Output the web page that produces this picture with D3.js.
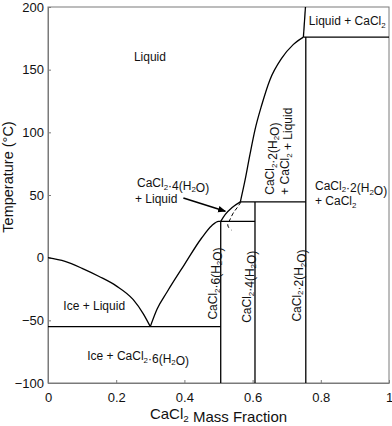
<!DOCTYPE html>
<html>
<head>
<meta charset="utf-8">
<script src="https://d3js.org/d3.v7.min.js"></script>
<style>
  body { margin: 0; background: #fff; }
  text { font-family: "Liberation Sans", Arial, sans-serif; fill: #111; }
</style>
</head>
<body>
<svg id="chart" width="392" height="426"></svg>
<script>
// axis ticks
var xTicks = [0, 0.2, 0.4, 0.6, 0.8, 1];
var yTicks = [-100, -50, 0, 50, 100, 150, 200];

// phase boundaries, [mass fraction, temperature]
var iceLiquidus = [[0, 0], [0.05, -3], [0.1, -8.5], [0.15, -15], [0.2, -22.5], [0.25, -33.5], [0.28, -45], [0.30, -55]];
var hexaLiquidus = [[0.30, -55], [0.32, -41], [0.35, -27], [0.40, -5.5], [0.45, 15.5], [0.48, 25.5], [0.50, 29], [0.5065, 29]];
var tetraLiquidus = [[0.5065, 29], [0.52, 34.5], [0.54, 40], [0.564, 44.5]];
var diLiquidus = [[0.564, 44.5], [0.578, 62], [0.592, 82], [0.607, 102], [0.627, 122], [0.651, 142], [0.685, 159], [0.719, 170], [0.749, 176]];
var anhydrousLine = [[0.749, 176], [0.755, 200]];
var metastable = [[0.566, 44.5], [0.555, 40], [0.543, 35.5], [0.533, 30], [0.527, 26.5], [0.530, 24], [0.538, 22]];

var eutecticLine = [[0, -55], [0.5065, -55]];
var hexaLine = [[0.5065, -100], [0.5065, 29]];
var peritecticLine1 = [[0.5065, 29], [0.607, 29]];
var tetraLine = [[0.607, -100], [0.607, 44.5]];
var peritecticLine2 = [[0.564, 44.5], [0.756, 44.5]];
var diLine = [[0.756, -100], [0.756, 176]];
var anhydrousTop = [[0.749, 176], [1, 176]];

var arrowPts = [[0.397, 47.6], [0.52, 37]];

var margin = {top: 7, left: 48, right: 3, bottom: 43};
var W = 392, H = 426;
var w = W - margin.left - margin.right;
var h = H - margin.top - margin.bottom;

var svg = d3.select("#chart");
svg.append("defs").append("marker")
   .attr("id", "head")
   .attr("markerWidth", 8)
   .attr("markerHeight", 8)
   .attr("viewBox", "0 0 10 10")
   .attr("refX", 9)
   .attr("refY", 5)
   .attr("orient", "auto")
   .attr("markerUnits", "userSpaceOnUse")
   .append("path").attr("d", "M 0 1 L 10 5 L 0 9 z").attr("fill", "#000");

var g = svg.append("g").attr("transform", "translate(" + margin.left + "," + margin.top + ")");

var x = d3.scaleLinear().domain([0, 1]).range([0, w]);
var y = d3.scaleLinear().domain([-100, 200]).range([h, 0]);

// frame + axes
var axisColor = "#7a7a7a";
g.append("rect").attr("width", w).attr("height", h)
 .attr("fill", "none").attr("stroke", axisColor).attr("stroke-width", 1);

var xAxis = g.append("g").attr("transform", "translate(0," + h + ")")
  .call(d3.axisBottom(x).tickValues(xTicks).tickFormat(d3.format("")).tickSizeInner(-3).tickSizeOuter(0).tickPadding(10));
var yAxis = g.append("g")
  .call(d3.axisLeft(y).tickValues(yTicks).tickSizeInner(-3).tickSizeOuter(0).tickPadding(4));
[xAxis, yAxis].forEach(function(a){
  a.select(".domain").attr("stroke", axisColor);
  a.selectAll(".tick line").attr("stroke", axisColor);
  a.selectAll(".tick text").attr("font-size", 13).attr("font-family", null).attr("fill", "#111");
});

// helper: "_2" becomes a subscript
function rich(t, str, sub) {
  sub = sub || 2.5;
  var parts = str.split(/(_\d)/);
  parts.forEach(function(p){
    if (!p) return;
    if (p[0] === "_") {
      t.append("tspan").attr("font-size", "66%").attr("dy", sub).text(p.slice(1));
      t.append("tspan").attr("dy", -sub).text("");
    } else {
      t.append("tspan").text(p);
    }
  });
  return t;
}

// curves
var smooth = d3.line().x(function(d){ return x(d[0]); }).y(function(d){ return y(d[1]); }).curve(d3.curveMonotoneX);
var straight = d3.line().x(function(d){ return x(d[0]); }).y(function(d){ return y(d[1]); });
var bendy = d3.line().x(function(d){ return x(d[0]); }).y(function(d){ return y(d[1]); }).curve(d3.curveCatmullRom);

var lineStyle = function(p){ p.attr("fill", "none").attr("stroke", "#000").attr("stroke-width", 1.3); };

[iceLiquidus, hexaLiquidus, tetraLiquidus, diLiquidus].forEach(function(c){
  g.append("path").attr("d", smooth(c)).call(lineStyle);
});
[anhydrousLine, eutecticLine, hexaLine, peritecticLine1, tetraLine, peritecticLine2, diLine, anhydrousTop].forEach(function(c){
  g.append("path").attr("d", straight(c)).call(lineStyle);
});
g.append("path").attr("d", bendy(metastable)).call(lineStyle).attr("stroke-dasharray", "4,2.5").attr("stroke-width", 1);

g.append("path").attr("d", straight(arrowPts)).call(lineStyle).attr("stroke-width", 1.5)
 .attr("marker-end", "url(#head)");

// region labels
var fs = 12;
function label(px, py, str) {
  return rich(g.append("text").attr("x", x(px)).attr("y", y(py)).attr("font-size", fs), str);
}
function vlabel(px, py, str) {
  var t = g.append("text").attr("font-size", fs)
    .attr("transform", "translate(" + x(px) + "," + y(py) + ") rotate(-90)");
  return rich(t, str);
}
label(0.252, 157, "Liquid");
label(0.045, -41.4, "Ice + Liquid");
label(0.115, -82, "Ice + CaCl_2·6(H_2O)");
label(0.261, 56, "CaCl_2·4(H_2O)");
label(0.255, 43.5, "+ Liquid");
label(0.765, 185.5, "Liquid + CaCl_2");
label(0.783, 54, "CaCl_2·2(H_2O)");
label(0.783, 42, "+ CaCl_2");

vlabel(0.497, -49.4, "CaCl_2·6(H_2O)");
vlabel(0.5955, -52, "CaCl_2·4(H_2O)");
vlabel(0.741, -51, "CaCl_2·2(H_2O)");
vlabel(0.664, 50.2, "CaCl_2·2(H_2O)");
vlabel(0.707, 50.2, "+ CaCl_2 + Liquid");

// axis titles
rich(svg.append("text").attr("x", margin.left + w / 2).attr("y", 419)
  .attr("text-anchor", "middle").attr("font-size", 15), "CaCl_2 Mass Fraction");
svg.append("text").attr("text-anchor", "middle").attr("font-size", 14.5)
  .attr("transform", "translate(13,177) rotate(-90)")
  .text("Temperature (°C)");
</script>
</body>
</html>
